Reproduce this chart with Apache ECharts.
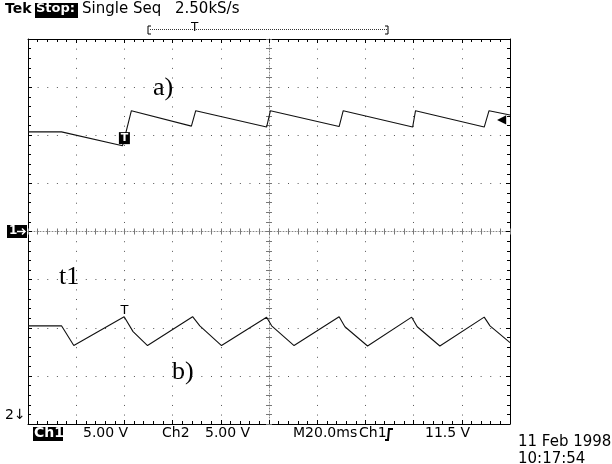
<!DOCTYPE html>
<html>
<head>
<meta charset="utf-8">
<script src="https://cdn.jsdelivr.net/npm/echarts@6/dist/echarts.min.js"></script>
<style>
  html, body { margin: 0; padding: 0; background: #fff; }
  #scope { width: 612px; height: 464px; }
</style>
</head>
<body>
<div id="scope"></div>
<script>
// 时间轴 (ms)  M20.0ms/div , 10 div
const timeMin = 0, timeMax = 200, timeDiv = 20;
// 纵轴 (div) , 8 div
const divMin = -4, divMax = 4;

// Ch1  a)
const ch1Time = [0, 13.9, 39.2, 40.9, 42.9, 67.8, 69.6, 99.0, 100.6, 129.1, 130.8, 159.6, 160.8, 189.3, 191.3, 200];
const ch1Div  = [2.07, 2.07, 1.78, 2.11, 2.51, 2.19, 2.51, 2.17, 2.51, 2.18, 2.51, 2.17, 2.51, 2.17, 2.51, 2.42];

// Ch2  b)
const ch2Time = [0, 13.9, 19.0, 39.9, 43.6, 49.6, 68.3, 71.3, 80.3, 99.0, 101.1, 110.4, 129.1, 131.5, 140.9, 159.2, 161.5, 170.9, 189.3, 191.7, 200];
const ch2Div  = [-1.96, -1.96, -2.37, -1.77, -2.08, -2.37, -1.77, -1.96, -2.37, -1.78, -1.96, -2.37, -1.77, -1.98, -2.38, -1.78, -1.98, -2.38, -1.78, -1.96, -2.31];

// 触发点
const trigTime = 40;
const trigCh1 = 1.94;
const trigCh2 = -1.77;

// 底部读数
const readoutText = ['5.00 V', 'Ch2', '5.00 V', 'M20.0ms', 'Ch1', '11.5 V'];
const readoutX    = [83, 162, 205, 293, 359, 425];

const FONT = '14px "DejaVu Sans"';
const BIG = '15px "DejaVu Sans"';
const SERIF = '26px "Liberation Serif"';
const DOT = [1, 8.63];  // 每 1/5 div 一个点

function zip(a, b) {
  return a.map((v, i) => [v, b[i]]);
}

// 边框轴 (只画刻度, 不画标签)
function borderAxis(pos, min, max, interval, grid) {
  return {
    type: 'value', position: pos, min: min, max: max, interval: interval,
    axisLine: { show: true, onZero: false, lineStyle: { color: '#000', width: 1 } },
    axisTick: { show: true, inside: true, length: 4, lineStyle: { color: '#000' } },
    minorTick: { show: true, splitNumber: 5, length: 3, lineStyle: { color: '#000' } },
    axisLabel: { show: false },
    splitLine: { show: grid, lineStyle: { color: '#555', width: 1, type: DOT } }
  };
}

// 中心十字
function centerAxis(pos, min, max, interval, offset, inside, line) {
  return {
    type: 'value', position: pos, min: min, max: max, interval: interval, offset: offset,
    axisLine: { show: line, onZero: false, lineStyle: { color: '#888', width: 1, type: [1, 2] } },
    axisTick: { show: true, inside: inside, length: 3, lineStyle: { color: '#777' } },
    axisLabel: { show: false },
    splitLine: { show: false }
  };
}

const chart = echarts.init(document.getElementById('scope'));

const option = {
  animation: false,
  backgroundColor: '#fff',
  grid: { left: 28, top: 39, width: 482, height: 385 },
  xAxis: [
    borderAxis('bottom', timeMin, timeMax, timeDiv, true),
    borderAxis('top', timeMin, timeMax, timeDiv, false),
    centerAxis('bottom', timeMin, timeMax, 4, -192.5, true, true),
    centerAxis('bottom', timeMin, timeMax, 4, -192.5, false, false)
  ],
  yAxis: [
    borderAxis('left', divMin, divMax, 1, true),
    borderAxis('right', divMin, divMax, 1, false),
    centerAxis('left', divMin, divMax, 0.2, -241, true, true),
    centerAxis('left', divMin, divMax, 0.2, -241, false, false)
  ],
  series: [
    {
      name: 'Ch1', type: 'line', data: zip(ch1Time, ch1Div),
      showSymbol: false, lineStyle: { color: '#111', width: 1.1 },
      markPoint: {
        symbol: 'rect', symbolSize: [11, 12],
        itemStyle: { color: '#000' },
        label: { show: true, formatter: 'T', color: '#fff', fontSize: 11, fontWeight: 'bold', fontFamily: 'DejaVu Sans' },
        data: [{ coord: [trigTime, trigCh1] }]
      }
    },
    {
      name: 'Ch2', type: 'line', data: zip(ch2Time, ch2Div),
      showSymbol: false, lineStyle: { color: '#111', width: 1.1 },
      markPoint: {
        symbol: 'rect', symbolSize: 1,
        itemStyle: { color: 'rgba(0,0,0,0)' },
        label: { show: true, position: 'top', distance: -1, formatter: 'T', color: '#000', fontSize: 13, fontFamily: 'DejaVu Sans' },
        data: [{ coord: [trigTime, trigCh2] }]
      }
    }
  ],
  graphic: [
    // 顶部状态栏
    { type: 'text', x: 5, y: 2, style: { text: 'Tek', font: 'bold 14px "DejaVu Sans"', fill: '#000' } },
    { type: 'rect', shape: { x: 35, y: 3, width: 43, height: 15 }, style: { fill: '#000' } },
    { type: 'text', x: 36, y: 2, style: { text: 'Stop:', font: 'bold 13px "DejaVu Sans"', fill: '#fff' } },
    { type: 'text', x: 82, y: 2, style: { text: 'Single Seq', font: BIG, fill: '#000' } },
    { type: 'text', x: 175, y: 2, style: { text: '2.50kS/s', font: BIG, fill: '#000' } },
    // 记录窗口括号
    { type: 'polyline', shape: { points: [[151, 26], [148, 26], [148, 34], [151, 34]] }, style: { stroke: '#000', lineWidth: 1, fill: null } },
    { type: 'line', shape: { x1: 150, y1: 29.5, x2: 387, y2: 29.5 }, style: { stroke: '#333', lineWidth: 1, lineDash: [1, 1] } },
    { type: 'polyline', shape: { points: [[385, 26], [388, 26], [388, 34], [385, 34]] }, style: { stroke: '#000', lineWidth: 1, fill: null } },
    { type: 'text', x: 191, y: 22, style: { text: 'T', font: '12px "DejaVu Sans"', fill: '#000' } },
    // 通道标记
    { type: 'rect', shape: { x: 7, y: 225, width: 20, height: 13 }, style: { fill: '#000' } },
    { type: 'text', x: 9, y: 225, style: { text: '1', font: 'bold 12px "DejaVu Sans"', fill: '#fff' } },
    { type: 'line', shape: { x1: 17, y1: 231.5, x2: 25, y2: 231.5 }, style: { stroke: '#fff', lineWidth: 1.5 } },
    { type: 'polyline', shape: { points: [[22, 228.5], [25, 231.5], [22, 234.5]] }, style: { stroke: '#fff', lineWidth: 1.5, fill: null } },
    { type: 'text', x: 5, y: 408, style: { text: '2↓', font: FONT, fill: '#000' } },
    { type: 'text', x: 497, y: 114, style: { text: '◀', font: '12px "DejaVu Sans"', fill: '#000' } },
    // 曲线标注
    { type: 'text', x: 153, y: 75, style: { text: 'a)', font: SERIF, fill: '#000' } },
    { type: 'text', x: 59, y: 264, style: { text: 't1', font: SERIF, fill: '#000' } },
    { type: 'text', x: 172, y: 359, style: { text: 'b)', font: SERIF, fill: '#000' } },
    // 底部读数
    { type: 'rect', shape: { x: 33, y: 427, width: 30, height: 14 }, style: { fill: '#000' } },
    { type: 'text', x: 34, y: 426, style: { text: 'Ch1', font: 'bold 14px "DejaVu Sans"', fill: '#fff' } }
  ].concat(readoutText.map((t, i) => ({
    type: 'text', x: readoutX[i], y: 426, style: { text: t, font: FONT, fill: '#000' }
  }))).concat([
    { type: 'polyline', shape: { points: [[385, 440], [388, 440], [389, 429], [393, 429]] }, style: { stroke: '#000', lineWidth: 2, fill: null } },
    { type: 'text', x: 518, y: 435, style: { text: '11 Feb 1998', font: BIG, fill: '#000' } },
    { type: 'text', x: 518, y: 452, style: { text: '10:17:54', font: BIG, fill: '#000' } }
  ])
};

chart.setOption(option);
</script>
</body>
</html>
